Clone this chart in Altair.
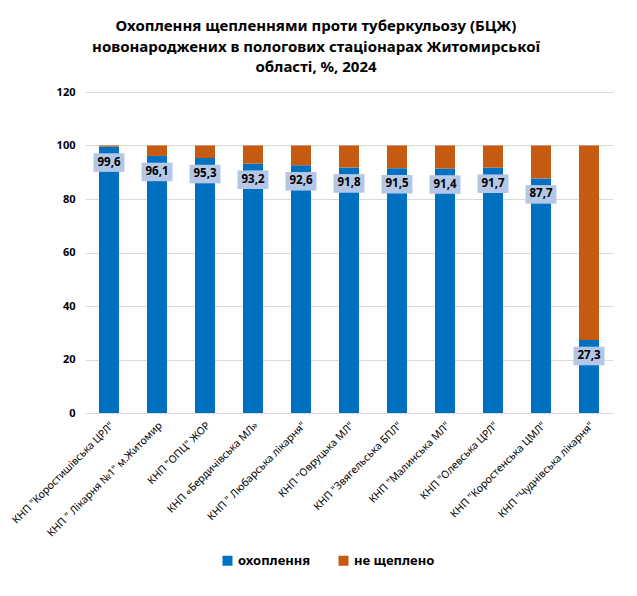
import altair as alt
import pandas as pd

categories = [
    'КНП "Коростишівська ЦРЛ"',
    'КНП " Лікарня №1" м.Житомир',
    'КНП "ОПЦ" ЖОР',
    'КНП «Бердичівська МЛ»',
    'КНП " Любарська лікарня"',
    'КНП "Овруцька МЛ"',
    'КНП "Звягельська БПЛ"',
    'КНП "Малинська МЛ"',
    'КНП "Олевська ЦРЛ"',
    'КНП "Коростенська ЦМЛ"',
    'КНП "Чуднівська лікарня"',
]
coverage = [99.6, 96.1, 95.3, 93.2, 92.6, 91.8, 91.5, 91.4, 91.7, 87.7, 27.3]
not_vaccinated = [0.4, 3.9, 4.7, 6.8, 7.4, 8.2, 8.5, 8.6, 8.3, 12.3, 72.7]
series = ["охоплення", "не щеплено"]
colors = ["#0070C0", "#C55A11"]
y_ticks = [0, 20, 40, 60, 80, 100, 120]

rows = []
for c, a, b in zip(categories, coverage, not_vaccinated):
    rows.append({"cat": c, "series": series[0], "v": a, "ord": 0})
    rows.append({"cat": c, "series": series[1], "v": b, "ord": 1})
df = pd.DataFrame(rows)
lab = pd.DataFrame({"cat": categories, "v": coverage})

FONT = "Noto Sans"

x = alt.X("cat:N", sort=categories, title=None,
          axis=alt.Axis(labelAngle=-45, labelFontSize=10.5, labelColor="#000000",
                        labelFont=FONT, ticks=False, domain=False, labelPadding=7,
                        labelLimit=300))

bars = alt.Chart(df).mark_bar(size=20).encode(
    x=x,
    y=alt.Y("v:Q", stack="zero", title=None,
            scale=alt.Scale(domain=[0, 120], nice=False),
            axis=alt.Axis(values=y_ticks, labelFontSize=11, labelFontWeight="bold",
                          labelColor="#000000", labelFont=FONT, ticks=False,
                          domain=False, gridColor="#D9D9D9", labelPadding=10)),
    color=alt.Color("series:N", sort=series,
                    scale=alt.Scale(domain=series, range=colors),
                    legend=alt.Legend(title=None, orient="none", direction="horizontal",
                                      legendX=136, legendY=462, symbolType="square",
                                      symbolSize=100, labelFontSize=13,
                                      labelFontWeight="bold", labelFont=FONT,
                                      labelColor="#000000", columnPadding=26,
                                      labelOffset=4, symbolStrokeWidth=0)),
    order=alt.Order("ord:Q"),
)

boxes = alt.Chart(lab).mark_point(
    shape="M-1,-0.6L1,-0.6L1,0.6L-1,0.6Z", filled=True, size=961,
    color="#B4C7E7", opacity=1, yOffset=16, strokeWidth=0,
).encode(x=alt.X("cat:N", sort=categories), y="v:Q")

texts = alt.Chart(lab).transform_calculate(
    label="replace(format(datum.v, '.1f'), '.', ',')"
).mark_text(fontSize=11.5, fontWeight="bold", font=FONT, color="#000000",
            yOffset=16, baseline="middle").encode(
    x=alt.X("cat:N", sort=categories), y="v:Q", text="label:N")

chart = alt.layer(bars, boxes, texts).properties(
    width=528, height=321,
    autosize=alt.AutoSizeParams(type="none"),
    padding={"left": 77, "top": 84, "right": 14, "bottom": 175},
    title=alt.TitleParams(
        ["Охоплення щепленнями проти туберкульозу (БЦЖ)",
         "новонароджених в пологових стаціонарах Житомирської",
         "області, %, 2024"],
        fontSize=15, font=FONT, fontWeight="bold", color="#000000",
        anchor="middle", dx=-33, lineHeight=20.5, offset=11),
).configure_view(stroke=None)

chart.save("out.html", embed_options={"renderer": "svg", "actions": False})
